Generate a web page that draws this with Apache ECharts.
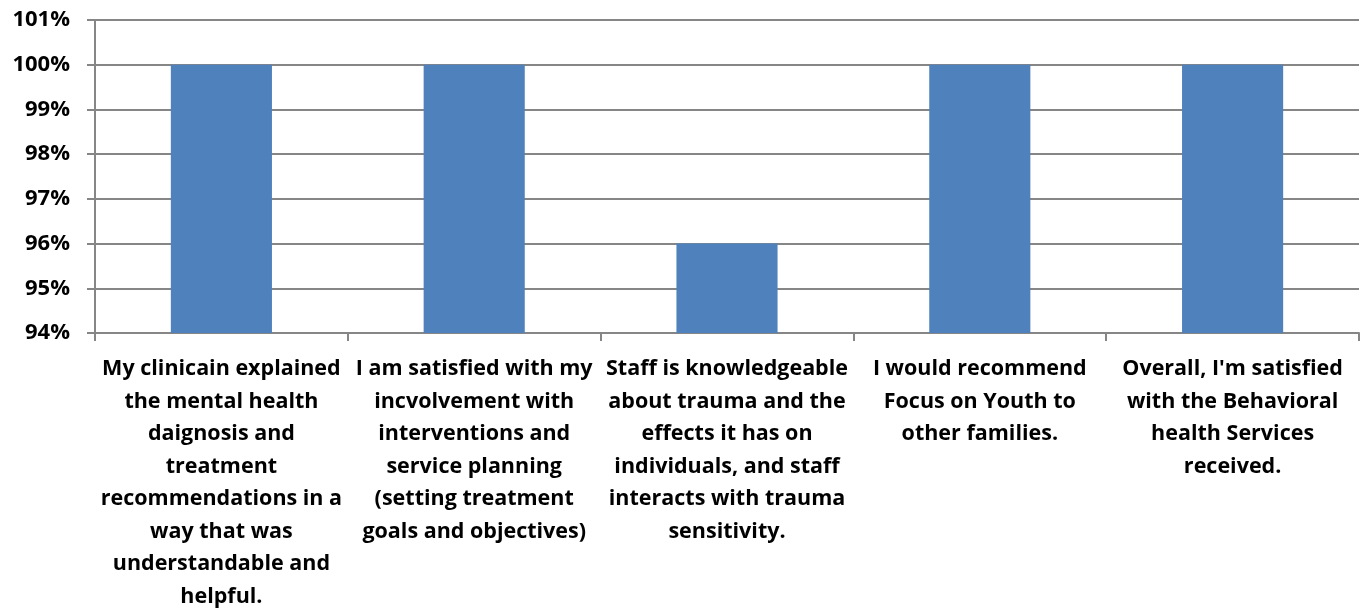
<!DOCTYPE html>
<html>
<head>
<meta charset="utf-8">
<script src="https://cdn.jsdelivr.net/npm/echarts@6/dist/echarts.min.js"></script>
<style>
  html, body { margin: 0; padding: 0; background: #fff; }
  #chart { width: 1361px; height: 608px; }
</style>
</head>
<body>
<div id="chart"></div>
<script>
// Survey statements, wrapped as they are shown under each bar
const categories = [
  "My clinicain explained\nthe mental health\ndaignosis and\ntreatment\nrecommendations in a\nway that was\nunderstandable and\nhelpful.",
  "I am satisfied with my\nincvolvement with\ninterventions and\nservice planning\n(setting treatment\ngoals and objectives)",
  "Staff is knowledgeable\nabout trauma and the\neffects it has on\nindividuals, and staff\ninteracts with trauma\nsensitivity.",
  "I would recommend\nFocus on Youth to\nother families.",
  "Overall, I'm satisfied\nwith the Behavioral\nhealth Services\nreceived."
];
// Percent satisfied per statement
const satisfied = [100, 100, 96, 100, 100];
// Value axis range (percent)
const yMin = 94;
const yMax = 101;
const yStep = 1;

const chart = echarts.init(document.getElementById('chart'), null, { renderer: 'canvas' });
const labelFont = '"Open Sans", Lato, sans-serif';

chart.setOption({
  animation: false,
  grid: {
    left: 95, right: 2, top: 20, bottom: 275,
    containLabel: false,
    outerBoundsMode: 'none'
  },
  xAxis: {
    type: 'category',
    data: categories,
    axisLine: { lineStyle: { color: '#868686', width: 2 } },
    axisTick: { show: true, length: 8, lineStyle: { color: '#868686', width: 2 } },
    axisLabel: {
      interval: 0,
      margin: 20,
      color: '#000',
      fontFamily: labelFont,
      fontWeight: 'bold',
      fontSize: 21.5,
      lineHeight: 32.5,
      align: 'center',
      hideOverlap: false
    }
  },
  yAxis: {
    type: 'value',
    min: yMin,
    max: yMax,
    interval: yStep,
    axisLine: { show: true, lineStyle: { color: '#868686', width: 2 } },
    axisTick: { show: true, length: 8, lineStyle: { color: '#868686', width: 2 } },
    splitLine: { show: true, lineStyle: { color: '#868686', width: 2 } },
    axisLabel: {
      margin: 25,
      color: '#000',
      fontFamily: labelFont,
      fontWeight: 'bold',
      fontSize: 22,
      formatter: v => v + '%'
    }
  },
  series: [{
    type: 'bar',
    data: satisfied,
    barWidth: '40%',
    itemStyle: { color: '#4F81BD' }
  }]
});
</script>
</body>
</html>
